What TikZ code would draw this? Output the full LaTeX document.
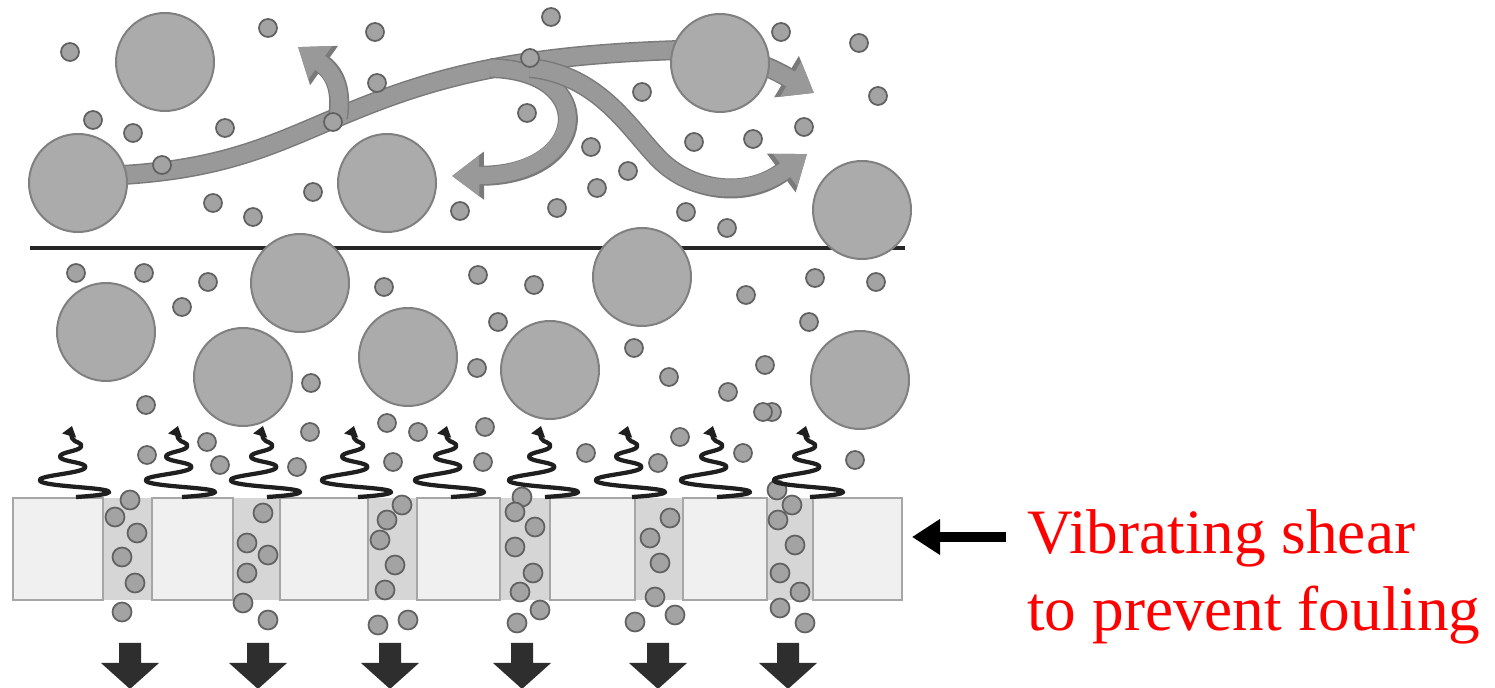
\documentclass[tikz,border=0pt]{standalone}
\usepackage{fontspec}
\setmainfont{Liberation Serif}
\usetikzlibrary{arrows.meta}

\tikzset{
  drop/.style={fill=gray!66, draw=gray, line width=0.04cm},
  grain/.style={fill=gray!72, draw=black!62, line width=0.035cm},
  pad/.style={fill=black!6, draw=black!35, line width=0.03cm},
  pore/.style={fill=black!16},
  flow/.style={draw=black!40, line width=0.34cm,
    preaction={draw=black!52, line width=0.4cm},
    -{Triangle[length=0pt 1.6, width=0pt 2.3]}},
  coil/.style={draw=black!88, line width=0.085cm, line join=round,
    -{Triangle[length=0.2cm, width=0.28cm]}},
  push/.style={fill=black!82},
  shear/.style={draw=black, line width=0.2cm, -{Triangle[length=0.56cm, width=0.68cm]}}
}

\begin{document}
\begin{tikzpicture}[x=0.02cm, y=-0.02cm, >=latex]
\fill[white] (0,0) rectangle (1495,688);
\useasboundingbox (0,0) rectangle (1495,688);

% skin layer
\draw[black!85, line width=0.08cm] (30,248) -- (905,248);

% cross flow above the cake
\draw[flow] (100,176) .. controls (230,172) and (280,140) .. (360,108)
  .. controls (440,76) and (520,55) .. (680,50)
  .. controls (735,50) and (772,68) .. (814,93);
\draw[flow] (338,118) .. controls (342,92) and (336,74) .. (298,47);
\draw[flow] (490,68) .. controls (600,70) and (590,175) .. (452,176);
\draw[flow] (530,68) .. controls (600,75) and (630,130) .. (660,160)
  .. controls (690,190) and (745,200) .. (807,154);

% large particles
\foreach \x/\y in {165/62, 78/183, 387/183, 720/63, 862/210,
    300/283, 106/332, 243/377, 408/357, 642/277, 550/370, 860/380}
  \draw[drop] (\x,\y) circle (49);

% small particles
\foreach \x/\y in {70/52, 268/28, 375/32, 551/17, 781/32, 859/43, 377/83,
    878/96, 93/120, 133/133, 225/128, 162/165, 333/122, 530/58, 642/92,
    527/113, 804/127, 591/147, 694/142, 753/139, 628/171, 597/188, 557/208,
    686/212, 727/228, 213/203, 253/217, 313/192, 460/211,
    76/273, 144/273, 208/282, 182/307, 384/287, 478/275, 534/285, 498/322,
    815/278, 876/282, 746/295, 809/322, 634/348, 477/368, 311/383, 669/377,
    765/365, 728/392, 772/412, 146/405,
    207/442, 147/455, 220/465, 297/467, 310/432, 387/423, 418/432, 485/427,
    393/462, 483/462, 586/453, 680/437, 658/463, 743/453, 763/412, 855/460}
  \draw[grain] (\x,\y) circle (9);

% membrane
\fill[pore] (103,498) rectangle (813,600);
\foreach \a/\b in {13/103, 152/233, 280/368, 417/500, 550/635, 683/767, 813/902}
  \draw[pad] (\a,498) rectangle (\b,600);

% particles in the pores
\foreach \x/\y in {130/500, 115/517, 137/533, 122/557, 135/583, 122/612,
    263/513, 247/543, 268/555, 247/573, 243/603, 268/620,
    402/505, 387/520, 380/540, 395/565, 385/590, 378/625, 408/620,
    522/497, 515/512, 535/527, 515/547, 533/573, 520/592, 540/610, 517/623,
    670/518, 650/538, 660/563, 655/597, 635/622, 675/615,
    777/490, 792/505, 778/520, 795/545, 780/573, 800/592, 780/608, 805/623}
  \draw[grain] (\x,\y) circle (9.5);

% vibration coils
\foreach \c in {72, 178, 263, 354, 447, 541, 628, 713, 806}
  \draw[coil] plot[smooth, tension=0.85] coordinates {({\c+4},497) ({\c+36},491)
    ({\c-32},481) ({\c+13},468) ({\c-12},457) ({\c+9},447) ({\c},438) ({\c},426)};

% permeate
\foreach \c in {130, 258, 390, 522, 658, 788}
  \fill[push] (\c-11,643) -- (\c+11,643) -- (\c+11,663) -- (\c+29,663)
    -- (\c,689) -- (\c-29,663) -- (\c-11,663) -- cycle;

\node[anchor=north west, inner sep=0, align=left, text=red,
  font=\fontsize{36}{44}\selectfont] (label) at (1027,509)
  {Vibrating shear\\to prevent fouling};
\coordinate (tail) at (1006,537);
\coordinate (head) at (912,537);
\draw[shear] (tail) -- (head);
\end{tikzpicture}
\end{document}
